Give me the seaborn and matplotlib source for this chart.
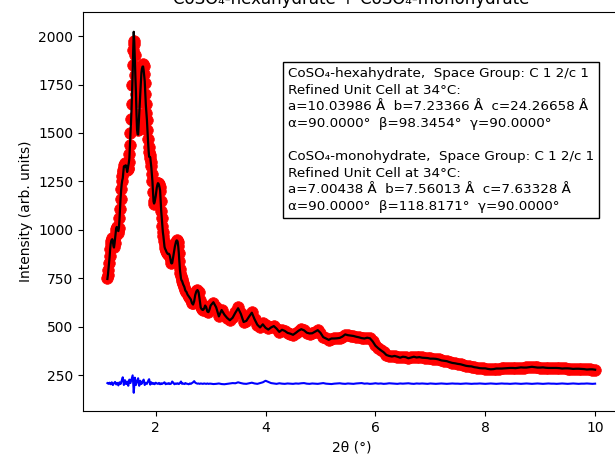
import numpy as np
import pandas as pd
import matplotlib
matplotlib.use("Agg")
import matplotlib.pyplot as plt
import seaborn as sns

# 2theta grid: fine step at low angle, coarser at higher angle
tth_a = np.round(np.arange(1.12, 2.505, 0.01), 3)
tth_b = np.round(np.arange(2.52, 2.99, 0.02), 3)
tth_c = np.round(np.arange(3.00, 10.001, 0.05), 3)

obs_a = [750, 770, 795, 830, 865, 900, 925, 945, 957, 950,
         935, 915, 912, 935, 965, 990, 1005, 1015, 1016, 995,
         985, 1010, 1060, 1110, 1160, 1210, 1250, 1280, 1300, 1310,
         1320, 1335, 1344, 1340, 1330, 1318, 1310, 1312, 1320, 1350,
         1390, 1440, 1500, 1570, 1650, 1750, 1850, 1930, 1975, 1960,
         1900, 1800, 1700, 1600, 1530, 1515, 1520, 1555, 1600, 1660,
         1720, 1770, 1810, 1835, 1850, 1858, 1845, 1805, 1760, 1700,
         1650, 1605, 1566, 1515, 1470, 1430, 1400, 1385, 1370, 1350,
         1330, 1290, 1250, 1195, 1150, 1136, 1140, 1160, 1180, 1200,
         1220, 1232, 1240, 1240, 1235, 1220, 1200, 1150, 1100, 1060,
         1020, 990, 970, 945, 920, 905, 895, 890, 885, 880,
         875, 877, 880, 872, 860, 845, 830, 832, 840, 855,
         870, 885, 900, 915, 930, 940, 945, 946, 940, 915,
         880, 840, 800, 778, 760, 745, 735, 727, 720]
obs_b = [705, 690, 680, 665, 655, 650, 640, 625, 622, 645,
         670, 685, 690, 680, 640, 600, 590, 586, 595, 610,
         600, 580, 575, 590]
obs_c = [610, 625, 600, 555, 585, 560, 545, 535, 550, 575,
         603, 570, 525, 530, 555, 578, 540, 510, 500, 520,
         510, 495, 500, 505, 490, 476, 485, 478, 470, 465,
         458, 470, 480, 490, 485, 470, 465, 468, 475, 482,
         470, 450, 440, 432, 438, 440, 442, 445, 450, 460,
         458, 455, 452, 450, 448, 445, 440, 445, 440, 425,
         405, 390, 380, 368, 355, 352, 348, 350, 345, 342,
         346, 345, 340, 342, 345, 343, 344, 342, 340, 338,
         337, 336, 334, 332, 328, 325, 322, 318, 315, 312,
         309, 306, 303, 300, 297, 295, 292, 290, 288, 286,
         285, 283, 282, 282, 284, 285, 286, 286, 287, 287,
         288, 288, 289, 290, 290, 291, 292, 293, 292, 291,
         290, 290, 289, 289, 288, 288, 287, 287, 286, 286,
         285, 285, 284, 284, 283, 283, 282, 281, 281, 280,
         279]

diff_a = [210, 208, 206, 209, 212, 207, 204, 209, 214, 205,
          200, 205, 210, 213, 216, 209, 203, 207, 211, 205,
          198, 206, 214, 210, 205, 213, 222, 232, 240, 220,
          200, 212, 225, 214, 205, 210, 218, 206, 196, 212,
          228, 218, 210, 220, 232, 242, 250, 210, 160, 200,
          238, 220, 200, 210, 220, 228, 235, 214, 196, 210,
          222, 214, 205, 210, 215, 222, 228, 214, 200, 206,
          212, 209, 206, 213, 220, 226, 230, 215, 202, 208,
          214, 210, 206, 208, 210, 207, 204, 208, 212, 210,
          208, 207, 206, 208, 211, 208, 204, 206, 209, 207,
          206, 208, 210, 212, 214, 209, 204, 206, 208, 207,
          206, 208, 210, 207, 205, 206, 207, 212, 218, 215,
          212, 208, 204, 206, 208, 207, 206, 208, 209, 207,
          205, 207, 210, 214, 218, 212, 206, 207, 208]
diff_b = [205, 210, 207, 206, 204, 208, 206, 210, 214, 220,
          212, 209, 207, 208, 206, 208, 207, 206, 208, 207,
          206, 208, 206, 207]
diff_c = [207, 205, 206, 208, 205, 204, 206, 208, 210, 209,
          214, 210, 207, 206, 209, 212, 208, 206, 210, 214,
          222, 216, 210, 208, 206, 209, 207, 206, 208, 207,
          206, 208, 207, 209, 210, 207, 206, 208, 207, 206,
          208, 210, 207, 206, 205, 207, 208, 209, 207, 206,
          208, 207, 206, 208, 209, 210, 207, 208, 206, 207,
          209, 207, 208, 206, 207, 209, 208, 207, 206, 208,
          207, 208, 209, 207, 206, 208, 207, 208, 207, 206,
          208, 207, 206, 207, 208, 207, 206, 207, 208, 207,
          207, 206, 207, 208, 207, 206, 207, 207, 208, 207,
          206, 207, 208, 207, 206, 207, 208, 207, 207, 206,
          207, 208, 207, 206, 207, 208, 207, 206, 207, 208,
          207, 206, 207, 208, 207, 207, 206, 207, 208, 207,
          206, 207, 208, 207, 206, 207, 207, 208, 207, 206,
          207]
diff_offset = 207

title = "CoSO\u2084-hexahydrate + CoSO\u2084-monohydrate"
info_lines = [
    "CoSO\u2084-hexahydrate,  Space Group: C 1 2/c 1",
    "Refined Unit Cell at 34\u00b0C:",
    "a=10.03986 \u00c5  b=7.23366 \u00c5  c=24.26658 \u00c5",
    "\u03b1=90.0000\u00b0  \u03b2=98.3454\u00b0  \u03b3=90.0000\u00b0",
    "",
    "CoSO\u2084-monohydrate,  Space Group: C 1 2/c 1",
    "Refined Unit Cell at 34\u00b0C:",
    "a=7.00438 \u00c5  b=7.56013 \u00c5  c=7.63328 \u00c5",
    "\u03b1=90.0000\u00b0  \u03b2=118.8171\u00b0  \u03b3=90.0000\u00b0",
]

tth = np.concatenate([tth_a, tth_b, tth_c])
obs = np.array(obs_a + obs_b + obs_c, dtype=float)
diff = np.array(diff_a + diff_b + diff_c, dtype=float)
calc = obs - (diff - diff_offset)
df = pd.DataFrame({"tth": tth, "obs": obs, "calc": calc, "diff": diff})

fig = plt.figure(figsize=(6.15, 4.58), dpi=100)
ax = fig.add_axes([83 / 615, 47 / 458, 536.5 / 615, 399 / 458])

sns.scatterplot(data=df, x="tth", y="obs", ax=ax, color="red", s=70,
                edgecolor="red", linewidth=0.5, zorder=2)
sns.lineplot(data=df, x="tth", y="calc", ax=ax, color="black", lw=1.6,
             sort=False, estimator=None, zorder=3)
sns.lineplot(data=df, x="tth", y="diff", ax=ax, color="blue", lw=1.5,
             sort=False, estimator=None, zorder=3)

ax.set_xlim(0.676, 10.444)
ax.set_ylim(66, 2124)
ax.set_xticks([2, 4, 6, 8, 10])
ax.set_yticks([250, 500, 750, 1000, 1250, 1500, 1750, 2000])
ax.set_xlabel("2\u03b8 (\u00b0)")
ax.set_ylabel("Intensity (arb. units)")
ax.set_title(title)

ax.text(0.382, 0.862, "\n".join(info_lines), transform=ax.transAxes,
        fontsize=9.7, va="top", ha="left", linespacing=1.36,
        bbox=dict(boxstyle="square,pad=0.4", facecolor="white", edgecolor="black"))

fig.savefig("out.png", dpi=100)
